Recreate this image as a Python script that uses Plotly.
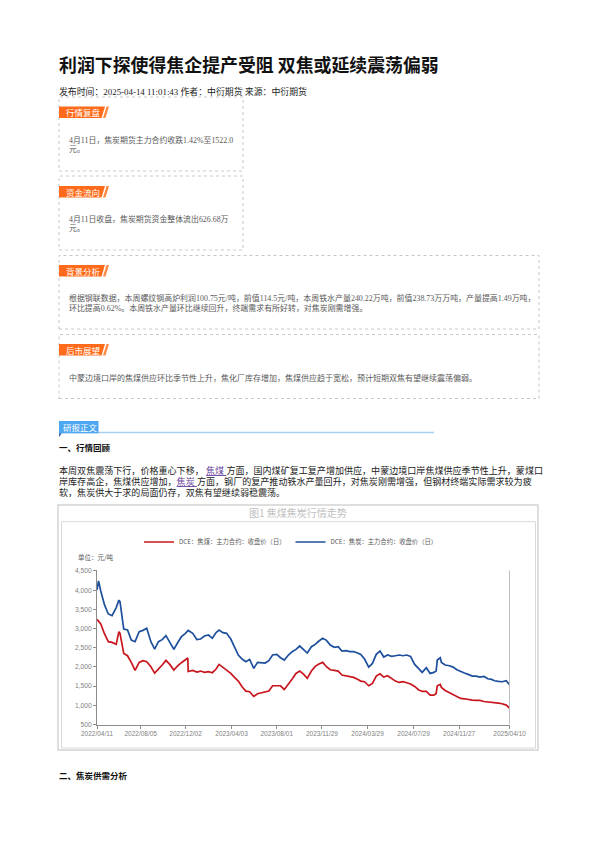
import plotly.graph_objects as go

W, H = 595, 842
OFF = 8  # 页面 body 默认外边距

# 行情数据（从原图读取，单位：元/吨）
dates = [
    '2022-04-11', '2022-04-15', '2022-04-21', '2022-05-01', '2022-05-11', '2022-05-21',
    '2022-06-01', '2022-06-08', '2022-06-11', '2022-06-21', '2022-07-01', '2022-07-11',
    '2022-07-21', '2022-08-01', '2022-08-11', '2022-08-21', '2022-09-01', '2022-09-11',
    '2022-09-21', '2022-10-01', '2022-10-11', '2022-10-21', '2022-11-01', '2022-11-11',
    '2022-11-21', '2022-12-01', '2022-12-08', '2022-12-09', '2022-12-21', '2023-01-01',
    '2023-01-11', '2023-01-21', '2023-02-01', '2023-02-11', '2023-02-21', '2023-03-01',
    '2023-03-11', '2023-03-21', '2023-04-01', '2023-04-11', '2023-04-21', '2023-05-01',
    '2023-05-11', '2023-05-21', '2023-06-01', '2023-06-11', '2023-06-21', '2023-07-01',
    '2023-07-11', '2023-07-21', '2023-08-01', '2023-08-11', '2023-08-21', '2023-09-01',
    '2023-09-11', '2023-09-21', '2023-10-01', '2023-10-11', '2023-10-21', '2023-11-01',
    '2023-11-11', '2023-11-21', '2023-12-01', '2023-12-11', '2023-12-21', '2024-01-01',
    '2024-01-11', '2024-01-21', '2024-02-01', '2024-02-11', '2024-02-21', '2024-03-01',
    '2024-03-11', '2024-03-21', '2024-04-01', '2024-04-11', '2024-04-21', '2024-05-01',
    '2024-05-11', '2024-05-21', '2024-06-01', '2024-06-11', '2024-06-21', '2024-07-01',
    '2024-07-11', '2024-07-21', '2024-08-01', '2024-08-11', '2024-08-21', '2024-09-01',
    '2024-09-11', '2024-09-21', '2024-09-27', '2024-09-30', '2024-10-08', '2024-10-11',
    '2024-10-21', '2024-11-01', '2024-11-11', '2024-11-21', '2024-12-01', '2024-12-11',
    '2024-12-21', '2025-01-01', '2025-01-11', '2025-01-21', '2025-02-01', '2025-02-11',
    '2025-02-21', '2025-03-01', '2025-03-11', '2025-03-21', '2025-04-01', '2025-04-08',
    '2025-04-11',
]

# DCE 焦煤 主力合约 收盘价（红线）
coal = [
    3240, 3197, 3119, 2858, 2658, 2640,
    2588, 2919, 2875, 2353, 2292, 2118,
    1909, 2118, 2162, 2136, 2005, 1840,
    1936, 2049, 2170, 2066, 1918, 2031,
    2110, 2188, 2231, 1880, 1909, 1866,
    1892, 1857, 1875, 1849, 1944, 2066,
    1988, 1892, 1831, 1727, 1631, 1483,
    1370, 1353, 1231, 1300, 1318, 1335,
    1370, 1509, 1509, 1509, 1413, 1544,
    1683, 1831, 1892, 1810, 1701, 1892,
    2014, 2075, 2118, 2005, 1927, 1909,
    1892, 1788, 1770, 1762, 1727, 1683,
    1631, 1614, 1509, 1570, 1762, 1822,
    1736, 1770, 1701, 1631, 1596, 1614,
    1588, 1557, 1492, 1405, 1361, 1361,
    1266, 1266, 1309, 1509, 1544, 1466,
    1387, 1335, 1283, 1231, 1179, 1170,
    1144, 1135, 1126, 1126, 1100, 1092,
    1083, 1066, 1057, 1040, 1005, 944,
    925,
]

# DCE 焦炭 主力合约 收盘价（蓝线）
coke = [
    4006, 4240, 3980, 3615, 3380, 3336,
    3545, 3740, 3700, 2988, 2962, 2700,
    2658, 2919, 2953, 3006, 2658, 2466,
    2658, 2710, 2814, 2640, 2457, 2631,
    2788, 2866, 2920, 2950, 2875, 2715,
    2727, 2806, 2832, 2745, 2893, 2962,
    2893, 2875, 2727, 2527, 2310, 2205,
    2136, 2197, 1962, 2118, 2101, 2101,
    2162, 2310, 2327, 2240, 2179, 2310,
    2397, 2458, 2545, 2440, 2362, 2527,
    2588, 2675, 2745, 2692, 2571, 2510,
    2527, 2414, 2423, 2397, 2397, 2370,
    2327, 2205, 1996, 2092, 2327, 2414,
    2257, 2310, 2275, 2292, 2310, 2292,
    2310, 2275, 2066, 1962, 1857, 1979,
    1831, 1857, 1892, 2179, 2240, 2118,
    2049, 2031, 1996, 1927, 1875, 1840,
    1805, 1762, 1762, 1736, 1753, 1692,
    1675, 1640, 1622, 1614, 1640, 1553,
    1522,
]

tick_dates = ['2022-04-11', '2022-08-05', '2022-12-02', '2023-04-03', '2023-08-01',
              '2023-11-29', '2024-03-29', '2024-07-29', '2024-11-27', '2025-04-10']
tick_text = [d.replace('-', '/') for d in tick_dates]

BODY = "Liberation Serif, Noto Sans CJK SC"
HEAD = "Noto Sans CJK SC"
SANS = "Liberation Sans, Noto Sans CJK SC"


def px(x):
    return (x - OFF) / W


def py(y):
    return 1 - (y - OFF) / H


def add_text(fig, x, y, s, size, color='#333333', family=BODY, anchor='left'):
    fig.add_annotation(x=px(x), y=py(y), xref='paper', yref='paper', text=s,
                       showarrow=False, xanchor=anchor, yanchor='middle',
                       font=dict(size=size, color=color, family=family))


def poly(points):
    return 'M ' + ' L '.join(f'{px(a)},{py(b)}' for a, b in points) + ' Z'


fig = go.Figure()

fig.add_trace(go.Scatter(
    x=dates, y=coal, mode='lines',
    name='DCE：焦煤：主力合约：收盘价（日）',
    line=dict(color='#C8161E', width=1.7)
))
fig.add_trace(go.Scatter(
    x=dates, y=coke, mode='lines',
    name='DCE：焦炭：主力合约：收盘价（日）',
    line=dict(color='#1E4F9C', width=1.7)
))

fig.update_layout(
    width=W, height=H,
    margin=dict(l=0, r=0, t=0, b=0, pad=0, autoexpand=False),
    paper_bgcolor='white', plot_bgcolor='white',
    showlegend=True,
    legend=dict(orientation='h', x=px(291), xanchor='center', y=py(542), yanchor='middle',
                font=dict(size=6.3, color='#595959', family=HEAD),
                bgcolor='rgba(0,0,0,0)', itemwidth=30),
    xaxis=dict(type='date', domain=[px(97), px(510)], range=['2022-04-11', '2025-04-11'],
               tickvals=tick_dates, ticktext=tick_text, automargin=False,
               ticks='outside', ticklen=3, tickcolor='#8c8c8c',
               showline=True, linecolor='#8c8c8c', linewidth=1,
               showgrid=False, zeroline=False,
               tickfont=dict(size=6.5, color='#7f7f7f', family=SANS)),
    yaxis=dict(domain=[py(724.5), py(570.2)], range=[500, 4520], automargin=False,
               tick0=500, dtick=500, tickformat=',',
               ticks='outside', ticklen=3, tickcolor='#8c8c8c',
               showline=True, linecolor='#8c8c8c', linewidth=1,
               showgrid=False, zeroline=False,
               tickfont=dict(size=6.7, color='#7f7f7f', family=SANS)),
)

# 图表右侧灰色竖线
fig.add_shape(type='line', xref='x', yref='y', x0=dates[-1], x1=dates[-1], y0=500, y1=4520,
              line=dict(color='#bfbfbf', width=2))

# 标题与发布信息
add_text(fig, 57, 64, '<b>利润下探使得焦企提产受阻 双焦或延续震荡偏弱</b>', 17.9, '#111111', HEAD)
add_text(fig, 57, 91, '发布时间：2025-04-14 11:01:43 作者：中衍期货 来源：中衍期货', 8.9, '#222222')

# 虚线框 + 橙色标签
boxes = [
    (59, 97, 243, 171, 106.5, '行情复盘'),
    (59, 176, 243, 250, 186, '资金流向'),
    (59, 255.5, 539, 329, 265, '背景分析'),
    (59, 334.5, 539, 398.5, 344, '后市展望'),
]
for x0, y0, x1, y1, ty, label in boxes:
    fig.add_shape(type='rect', xref='paper', yref='paper',
                  x0=px(x0), y0=py(y1), x1=px(x1), y1=py(y0),
                  line=dict(color='#c8c8c8', width=1, dash='dot'))
    fig.add_shape(type='path', xref='paper', yref='paper',
                  path=poly([(x0, ty), (105, ty), (101.5, ty + 11.5), (x0, ty + 11.5)]),
                  fillcolor='#FF6B1A', line=dict(width=0))
    fig.add_shape(type='path', xref='paper', yref='paper',
                  path=poly([(106.5, ty), (109, ty), (105.5, ty + 11.5), (103, ty + 11.5)]),
                  fillcolor='#FF8A45', line=dict(width=0))
    add_text(fig, 64, ty + 5.8, label, 8.5, 'white', HEAD)

box_lines = [
    (140, 7.9, '4月11日，焦炭期货主力合约收跌1.42%至1522.0'),
    (149.5, 7.9, '元。'),
    (219, 7.9, '4月11日收盘，焦炭期货资金整体流出626.68万'),
    (228.5, 7.9, '元。'),
    (297.5, 7.95, '根据钢联数据，本周螺纹钢高炉利润100.75元/吨，前值114.5元/吨，本周铁水产量240.22万吨，'
                  '前值238.73万万吨，产量提高1.49万吨，'),
    (307.5, 7.95, '环比提高0.62%。本周铁水产量环比继续回升，终端需求有所好转，对焦炭刚需增强。'),
    (377.5, 8.0, '中蒙边境口岸的焦煤供应环比季节性上升，焦化厂库存增加，焦煤供应趋于宽松，预计短期双焦有望继续震荡偏弱。'),
]
for y, size, s in box_lines:
    add_text(fig, 67, y, s, size, '#5a5a5a')

# 研报正文 标签
fig.add_shape(type='line', xref='paper', yref='paper', x0=px(59), x1=px(434), y0=py(432.5), y1=py(432.5),
              line=dict(color='#a6cff2', width=1.5))
fig.add_shape(type='rect', xref='paper', yref='paper', x0=px(59), x1=px(98.5), y0=py(433.3), y1=py(421),
              fillcolor='#4DA6F0', line=dict(width=0))
fig.add_shape(type='path', xref='paper', yref='paper',
              path=poly([(59, 433.3), (62, 433.3), (59, 437)]),
              fillcolor='#2f6fb0', line=dict(width=0))
add_text(fig, 61, 427.2, '研报正文', 8.5, 'white', HEAD)

add_text(fig, 57, 446.5, '<b>一、行情回顾</b>', 8.5, '#111111', HEAD)

link = "<span style='color:#6b3fa0'><u>{}</u></span>"
para = [
    (470, '本周双焦震荡下行，价格重心下移， ' + link.format('焦煤 ') +
     '方面，国内煤矿复工复产增加供应，中蒙边境口岸焦煤供应季节性上升，蒙煤口'),
    (481, '岸库存高企，焦煤供应增加，' + link.format('焦炭 ') +
     '方面，钢厂的复产推动铁水产量回升，对焦炭刚需增强，但钢材终端实际需求较为疲'),
    (492, '软，焦炭供大于求的局面仍存，双焦有望继续弱稳震荡。'),
]
for y, s in para:
    add_text(fig, 57, y, s, 9.05, '#222222')

# 图表外框
fig.add_shape(type='rect', xref='paper', yref='paper', x0=px(58), x1=px(538), y0=py(750), y1=py(505),
              line=dict(color='#d4d4d4', width=1.5))
fig.add_shape(type='rect', xref='paper', yref='paper', x0=px(61.5), x1=px(535.5), y0=py(748), y1=py(521.7),
              line=dict(color='#d9d9d9', width=1))
add_text(fig, 298, 512.7, '图1 焦煤焦炭行情走势', 10, '#bfbfbf', HEAD, anchor='center')
add_text(fig, 76, 557, '单位：元/吨', 6.5, '#595959', HEAD)

add_text(fig, 57, 775, '<b>二、焦炭供需分析</b>', 8.5, '#111111', HEAD)

fig.write_html("out.html")
